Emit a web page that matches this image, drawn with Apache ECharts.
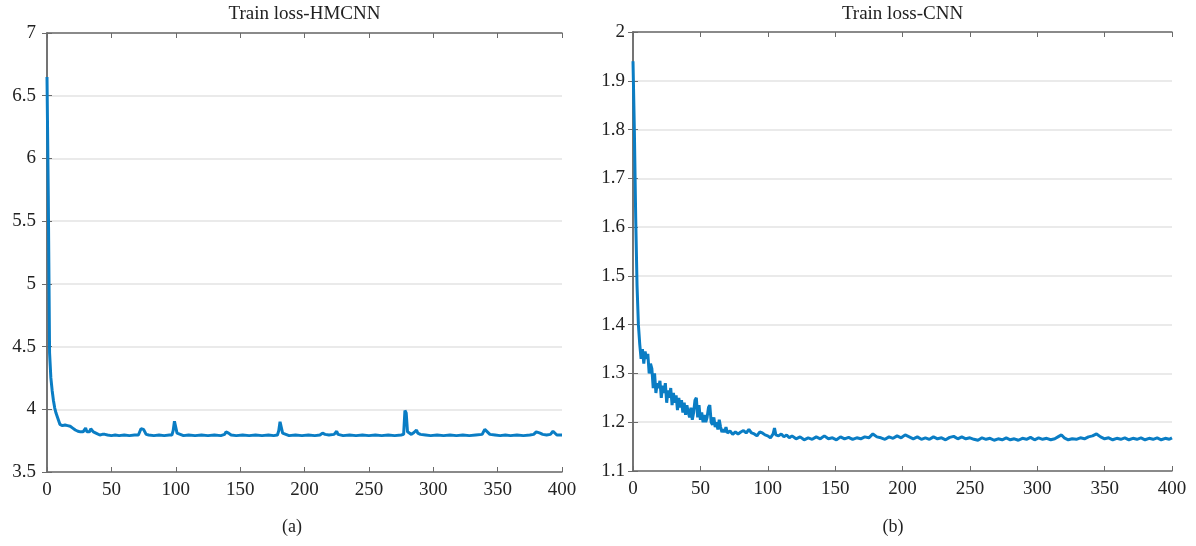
<!DOCTYPE html>
<html>
<head>
<meta charset="utf-8">
<script src="https://cdn.jsdelivr.net/npm/echarts@6/dist/echarts.min.js"></script>
<style>
html, body { margin: 0; padding: 0; background: #fff; }
#main { width: 1196px; height: 546px; }
</style>
</head>
<body>
<div id="main"></div>
<script>
// epoch ticks shared by both panels
var epochTicks = [0, 50, 100, 150, 200, 250, 300, 350, 400];
var titles = ['Train loss-HMCNN', 'Train loss-CNN'];
var captions = ['(a)', '(b)'];

// [epoch, loss]
var hmcnnLoss = [
    [0,6.65],[1,5.7],[2,4.45],[3,4.25],[4,4.15],[5,4.07],[6,4.01],[7,3.97],[8,3.94],[9,3.91],
    [10,3.88],[11,3.875],[12,3.87],[14,3.875],[16,3.87],[18,3.865],[20,3.85],[21,3.845],[22,3.835],
    [23,3.84],[24,3.825],[25,3.83],[26,3.82],[27,3.835],[28,3.82],[29,3.83],[30,3.85],[31,3.82],
    [32,3.83],[33,3.82],[34,3.845],[35,3.855],[36,3.82],[37,3.83],[38,3.81],[39,3.80],[41,3.795],
    [43,3.80],[44,3.81],[45,3.80],[47,3.795],[50,3.79],[53,3.795],[56,3.79],[60,3.795],[64,3.79],
    [68,3.795],[71,3.795],[72,3.81],[73,3.845],[74,3.855],[75,3.84],[76,3.82],[77,3.80],[79,3.795],
    [83,3.79],[87,3.795],[91,3.79],[95,3.795],[97,3.795],[98,3.83],[99,3.905],[100,3.90],[101,3.81],
    [102,3.795],[106,3.79],[110,3.795],[115,3.79],[120,3.795],[125,3.79],[130,3.795],[135,3.79],
    [138,3.80],[139,3.82],[140,3.825],[141,3.81],[143,3.795],[147,3.79],[152,3.795],[157,3.79],
    [162,3.795],[167,3.79],[172,3.795],[176,3.79],[179,3.795],[180,3.83],[181,3.90],[182,3.885],
    [183,3.81],[184,3.795],[188,3.79],[193,3.795],[198,3.79],[203,3.795],[208,3.79],[212,3.795],
    [214,3.81],[215,3.825],[216,3.80],[219,3.795],[223,3.80],[224,3.815],[225,3.825],[226,3.80],
    [230,3.79],[235,3.795],[240,3.79],[245,3.795],[250,3.79],[255,3.795],[260,3.79],[265,3.795],
    [270,3.79],[275,3.795],[277,3.80],[278,3.99],[279,3.97],[280,3.82],[281,3.805],[283,3.80],
    [285,3.815],[287,3.835],[288,3.81],[290,3.80],[294,3.795],[298,3.79],[303,3.795],[308,3.79],
    [313,3.795],[318,3.79],[323,3.795],[328,3.79],[333,3.795],[338,3.80],[340,3.84],[341,3.85],
    [342,3.82],[344,3.80],[348,3.795],[352,3.79],[356,3.795],[360,3.79],[365,3.795],[370,3.79],
    [375,3.795],[378,3.80],[379,3.815],[380,3.82],[381,3.815],[383,3.81],[385,3.80],[388,3.795],
    [391,3.80],[392,3.815],[393,3.825],[394,3.81],[396,3.795],[400,3.795]
];

// [epoch, loss]
var cnnLoss = [
    [0,1.94],[1,1.80],[2,1.62],[3,1.48],[4,1.40],[5,1.36],[6,1.33],[7,1.35],[8,1.32],[9,1.345],
    [10,1.33],[11,1.34],[12,1.30],[13,1.32],[14,1.31],[15,1.27],[16,1.30],[17,1.26],[18,1.28],
    [19,1.27],[20,1.285],[21,1.25],[22,1.275],[23,1.26],[24,1.28],[25,1.24],[26,1.265],[27,1.25],
    [28,1.27],[29,1.235],[30,1.26],[31,1.24],[32,1.255],[33,1.225],[34,1.25],[35,1.23],[36,1.245],
    [37,1.22],[38,1.24],[39,1.215],[40,1.235],[41,1.22],[42,1.21],[43,1.23],[44,1.205],[45,1.22],
    [46,1.245],[47,1.25],[48,1.21],[49,1.235],[50,1.205],[51,1.22],[52,1.20],[53,1.215],[54,1.20],
    [55,1.21],[56,1.23],[57,1.235],[58,1.20],[59,1.195],[60,1.21],[61,1.19],[62,1.20],[63,1.185],
    [64,1.205],[65,1.19],[66,1.18],[67,1.185],[68,1.18],[69,1.19],[70,1.178],[72,1.182],[74,1.175],
    [76,1.18],[78,1.176],[80,1.18],[82,1.183],[84,1.178],[86,1.185],[88,1.178],[90,1.176],
    [92,1.172],[94,1.18],[96,1.178],[98,1.174],[100,1.172],[102,1.168],[104,1.176],[105,1.188],
    [106,1.174],[108,1.172],[110,1.176],[112,1.17],[114,1.174],[116,1.168],[118,1.172],[121,1.166],
    [124,1.17],[127,1.164],[130,1.168],[133,1.165],[136,1.17],[139,1.166],[142,1.172],[145,1.166],
    [148,1.168],[151,1.164],[154,1.17],[157,1.166],[160,1.169],[163,1.165],[166,1.168],[169,1.166],
    [172,1.17],[175,1.168],[178,1.176],[181,1.17],[184,1.168],[187,1.165],[190,1.17],[193,1.167],
    [196,1.172],[199,1.168],[202,1.174],[205,1.17],[208,1.166],[211,1.17],[214,1.165],[217,1.168],
    [220,1.165],[223,1.17],[226,1.166],[229,1.168],[232,1.164],[235,1.169],[238,1.171],[241,1.166],
    [244,1.17],[247,1.166],[250,1.168],[253,1.165],[256,1.163],[259,1.168],[262,1.165],[265,1.167],
    [268,1.163],[271,1.166],[274,1.164],[277,1.168],[280,1.164],[283,1.166],[286,1.163],[289,1.167],
    [292,1.165],[295,1.169],[298,1.164],[301,1.168],[304,1.165],[307,1.167],[310,1.164],[313,1.166],
    [316,1.171],[318,1.174],[320,1.168],[323,1.164],[326,1.166],[329,1.165],[332,1.168],[335,1.166],
    [338,1.17],[341,1.172],[344,1.176],[347,1.17],[350,1.166],[353,1.168],[356,1.164],[359,1.167],
    [362,1.165],[365,1.168],[368,1.164],[371,1.167],[374,1.165],[377,1.168],[380,1.164],[383,1.167],
    [386,1.165],[389,1.168],[392,1.164],[395,1.167],[398,1.165],[400,1.168]
];

var lossRanges = [[3.5, 7, 0.5], [1.1, 2, 0.1]];

var FONT = 'Liberation Serif';
var lineColor = '#0a7dc4';
var frame = { show: true, lineStyle: { color: '#6b6b6b', width: 1.5 } };

function fmt(v) { return String(+v.toFixed(1)); }

var grids = [
    { left: 47, top: 33, width: 515, height: 439 },
    { left: 633, top: 32, width: 539, height: 439 }
];
var yLabelGap = [11, 8];
var captionX = [292, 893];

var xAxes = [], yAxes = [], series = [], graphics = [];
var losses = [hmcnnLoss, cnnLoss];

for (var g = 0; g < 2; g++) {
    var r = lossRanges[g];
    // bottom + top x axes
    xAxes.push({
        type: 'value', gridIndex: g, min: epochTicks[0], max: epochTicks[epochTicks.length - 1],
        interval: epochTicks[1] - epochTicks[0], position: 'bottom',
        axisLine: frame, axisTick: { inside: true, length: 5, lineStyle: { color: '#6b6b6b' } },
        axisLabel: { fontFamily: FONT, fontSize: 19, color: '#222', margin: 9 },
        splitLine: { show: false }
    });
    xAxes.push({
        type: 'value', gridIndex: g, min: epochTicks[0], max: epochTicks[epochTicks.length - 1],
        interval: epochTicks[1] - epochTicks[0], position: 'top',
        axisLine: frame, axisTick: { inside: true, length: 5, lineStyle: { color: '#6b6b6b' } },
        axisLabel: { show: false }, splitLine: { show: false }
    });
    // left + right y axes
    yAxes.push({
        type: 'value', gridIndex: g, min: r[0], max: r[1], interval: r[2], position: 'left',
        axisLine: frame, axisTick: { inside: true, length: 5, lineStyle: { color: '#6b6b6b' } },
        axisLabel: { fontFamily: FONT, fontSize: 19, color: '#222', margin: yLabelGap[g], formatter: fmt },
        splitLine: { show: true, lineStyle: { color: '#e3e3e3', width: 1.5 } }
    });
    yAxes.push({
        type: 'value', gridIndex: g, min: r[0], max: r[1], interval: r[2], position: 'right',
        axisLine: frame, axisTick: { inside: true, length: 5, lineStyle: { color: '#6b6b6b' } },
        axisLabel: { show: false }, splitLine: { show: false }
    });
    series.push({
        type: 'line', xAxisIndex: g * 2, yAxisIndex: g * 2, data: losses[g],
        showSymbol: false, animation: false,
        lineStyle: { color: lineColor, width: 3 }
    });
    var cx = grids[g].left + grids[g].width / 2;
    graphics.push({
        type: 'text', x: cx, y: 14,
        style: { text: titles[g], fontFamily: FONT, fontSize: 19, fill: '#222', textAlign: 'center', textVerticalAlign: 'middle' }
    });
    graphics.push({
        type: 'text', x: captionX[g], y: 527,
        style: { text: captions[g], fontFamily: FONT, fontSize: 18, fill: '#222', textAlign: 'center', textVerticalAlign: 'middle' }
    });
}

var myChart = echarts.init(document.getElementById('main'));
myChart.setOption({
    animation: false,
    grid: grids,
    xAxis: xAxes,
    yAxis: yAxes,
    series: series,
    graphic: graphics
});
</script>
</body>
</html>
